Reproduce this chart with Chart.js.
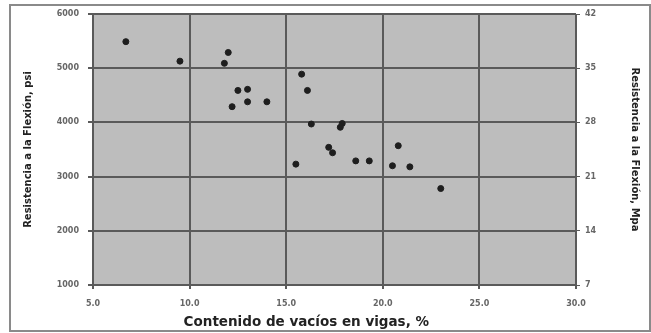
<!DOCTYPE html>
<html>
<head>
<meta charset="utf-8">
<script src="https://cdn.jsdelivr.net/npm/chart.js@4/dist/chart.umd.min.js"></script>
<style>
  html, body { margin: 0; padding: 0; background: #fff; }
  #wrap { width: 651px; height: 333px; }
</style>
</head>
<body>
<div id="wrap"><canvas id="voidsChart" width="651" height="333"></canvas></div>
<script>
// void content (%) vs flexural strength (psi)
const voids = [6.7, 9.5, 12.0, 11.8, 12.5, 13.0, 13.0, 12.2, 14.0, 15.8, 16.1, 16.3,
               17.9, 17.8, 17.2, 17.4, 15.5, 18.6, 19.3, 20.8, 20.5, 21.4, 23.0];
const flexPsi = [5490, 5130, 5290, 5090, 4590, 4610, 4380, 4290, 4380, 4890, 4590, 3970,
                 3980, 3910, 3540, 3440, 3230, 3290, 3290, 3570, 3200, 3180, 2780];
const xTicks = [5, 10, 15, 20, 25, 30];
const psiTicks = [1000, 2000, 3000, 4000, 5000, 6000];
const mpaTicks = [7, 14, 21, 28, 35, 42];

const points = voids.map((v, i) => ({ x: v, y: flexPsi[i] }));

const tickFont = { family: 'DejaVu Sans, sans-serif', size: 8, weight: 'bold' };
const titleFont = { family: 'DejaVu Sans, sans-serif', size: 10, weight: 'bold' };

// gray plot area + picture frame
const backdrop = {
    id: 'backdrop',
    beforeDraw(chart) {
        const ctx = chart.ctx;
        const a = chart.chartArea;
        ctx.save();
        ctx.fillStyle = '#fff';
        ctx.fillRect(0, 0, chart.width, chart.height);
        ctx.strokeStyle = '#8a8a8a';
        ctx.lineWidth = 2;
        ctx.strokeRect(10, 5, 640, 326);
        ctx.fillStyle = '#bdbdbd';
        ctx.fillRect(a.left, a.top, a.right - a.left, a.bottom - a.top);
        ctx.restore();
    }
};

new Chart(document.getElementById('voidsChart'), {
    type: 'scatter',
    data: {
        datasets: [{
            label: 'Vigas',
            data: points,
            backgroundColor: '#1e1e1e',
            borderColor: '#1e1e1e',
            pointRadius: 3,
            pointHoverRadius: 3
        }]
    },
    options: {
        responsive: false,
        animation: false,
        layout: { padding: { left: 10, right: 2, top: 14, bottom: 2 } },
        plugins: {
            legend: { display: false },
            tooltip: { enabled: false }
        },
        scales: {
            x: {
                type: 'linear',
                min: 5, max: 30,
                afterBuildTicks: s => { s.ticks = xTicks.map(v => ({ value: v })); },
                afterFit: s => { s.height = 46; },
                grid: { color: '#5a5a5a', lineWidth: 2, tickLength: 4 },
                border: { color: '#5a5a5a', width: 2 },
                ticks: { font: tickFont, color: '#666', padding: 10, callback: v => v.toFixed(1) },
                // trailing spaces push the title a bit left of centre, as in the original
                title: { display: true, text: 'Contenido de vacíos en vigas, %            ', font: { ...titleFont, size: 13.5 }, color: '#222', padding: { top: 1, bottom: 0 } }
            },
            y: {
                position: 'left',
                min: 1000, max: 6000,
                afterBuildTicks: s => { s.ticks = psiTicks.map(v => ({ value: v })); },
                afterFit: s => { s.width = 83; },
                grid: { color: '#5a5a5a', lineWidth: 2, tickLength: 5 },
                border: { color: '#5a5a5a', width: 2 },
                ticks: { font: tickFont, color: '#666', padding: 9, callback: v => String(v) },
                title: { display: true, text: 'Resistencia a la Flexión, psi', font: titleFont, color: '#222', padding: { top: 12, bottom: 0 } }
            },
            y2: {
                position: 'right',
                min: 7, max: 42,
                afterBuildTicks: s => { s.ticks = mpaTicks.map(v => ({ value: v })); },
                afterFit: s => { s.width = 73; },
                grid: { drawOnChartArea: false, color: '#5a5a5a', lineWidth: 1, tickLength: 4 },
                border: { color: '#5a5a5a', width: 1 },
                ticks: { font: tickFont, color: '#666', padding: 5 },
                title: { display: true, text: 'Resistencia a la Flexión, Mpa', font: titleFont, color: '#222', padding: { top: 8, bottom: 0 } }
            }
        }
    },
    plugins: [backdrop]
});
</script>
</body>
</html>
